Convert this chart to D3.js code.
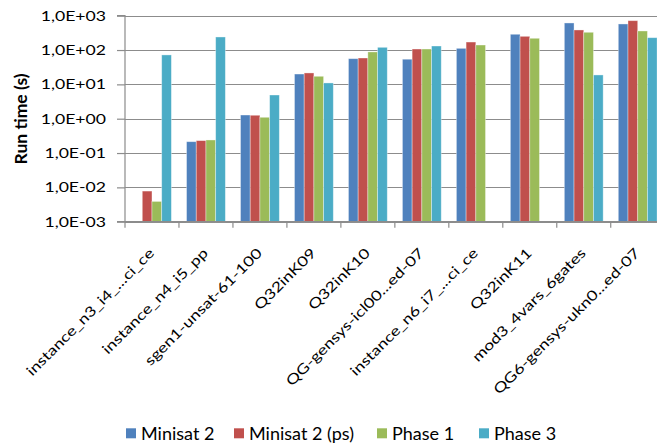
<!DOCTYPE html>
<html><head><meta charset="utf-8">
<script src="https://cdn.jsdelivr.net/npm/d3@7"></script>
<style>
html,body{margin:0;padding:0;background:#fff;}
svg{display:block;font-family:Lato, "Open Sans", sans-serif;}
</style></head>
<body>
<svg id="c" width="657" height="446"></svg>
<script>
const categories = ["instance_n3_i4_...ci_ce","instance_n4_i5_pp","sgen1-unsat-61-100","Q32inK09","Q32inK10","QG-gensys-icl00...ed-07","instance_n6_i7_...ci_ce","Q32inK11","mod3_4vars_6gates","QG6-gensys-ukn0...ed-07"];
const seriesNames = ["Minisat 2","Minisat 2 (ps)","Phase 1","Phase 3"];
const minisat2   = [null, 0.214, 1.28, 20,   56,  54,  112, 288, 614, 574];
const minisat2ps = [0.0078, 0.23, 1.26, 21.5, 58.6, 107, 171, 251, 384, 716];
const phase1     = [0.0039, 0.24, 1.10, 17.2, 88, 107, 140, 220, 329, 359];
const phase3     = [72, 240, 4.9, 11, 120, 131, null, null, 18.8, 229];
const yTicks = [1e-3,1e-2,1e-1,1e0,1e1,1e2,1e3];
const yTickLabels = ["1,0E-03","1,0E-02","1,0E-01","1,0E+00","1,0E+01","1,0E+02","1,0E+03"];
const colors = ["#4F81BD","#C0504D","#9BBB59","#4BACC6"];

const series = [minisat2, minisat2ps, phase1, phase3];
const svg = d3.select("#c");
const L = 125, R = 664.7, T = 15.7, B = 221.7;
const SX = 1.26; // horizontal stretch of tick label text

const x = d3.scaleBand().domain(categories).range([L, R]).paddingInner(0).paddingOuter(0);
const xs = d3.scaleBand().domain(seriesNames).range([0, x.bandwidth()]).paddingInner(0).paddingOuter(0.78);
const y = d3.scaleLog().domain([1e-3, 1e3]).range([B, T]);

// gridlines
svg.append("g").selectAll("line").data(yTicks).join("line")
  .attr("x1", L).attr("x2", R).attr("y1", d => Math.round(y(d)) + 0.5).attr("y2", d => Math.round(y(d)) + 0.5)
  .attr("stroke", "#8c8c8c").attr("stroke-width", 1.2);

// bars
const g = svg.append("g");
series.forEach((vals, si) => {
  g.append("g").selectAll("rect").data(vals.map((v, i) => ({v, c: categories[i]})).filter(d => d.v != null))
    .join("rect")
    .attr("x", d => x(d.c) + xs(seriesNames[si]))
    .attr("width", xs.bandwidth())
    .attr("y", d => y(d.v))
    .attr("height", d => B - y(d.v))
    .attr("fill", colors[si])
    .attr("stroke", "rgba(255,255,255,0.45)").attr("stroke-width", 0.8);
});

// y axis
const yAxis = d3.axisLeft(y).tickValues(yTicks).tickFormat((d, i) => yTickLabels[i]).tickSize(8).tickPadding(11);
const ya = svg.append("g").attr("transform", `translate(${L},0)`).call(yAxis);
ya.select(".domain").attr("stroke", "#8c8c8c").attr("stroke-width", 1.2).attr("d", `M-8,${T}H0V${B}H-8`);
ya.selectAll(".tick line").attr("stroke", "#8c8c8c").attr("stroke-width", 1.2);
ya.selectAll(".tick text").attr("font-size", 14).attr("fill", "#000").attr("font-family", "Lato")
  .attr("x", -19 / SX).attr("transform", `scale(${SX},1)`);

// x axis
const xAxis = d3.axisBottom(x).tickSize(0).tickFormat("");
const xa = svg.append("g").attr("transform", `translate(0,${B})`).call(xAxis);
xa.select(".domain").attr("stroke", "#8c8c8c").attr("stroke-width", 1.2).attr("d", `M${L},0H${R}`);
xa.selectAll(".tick").remove();
xa.selectAll("line.sep").data(d3.range(categories.length + 1)).join("line")
  .attr("class", "sep")
  .attr("x1", i => L + i * x.step()).attr("x2", i => L + i * x.step())
  .attr("y1", 0).attr("y2", 6).attr("stroke", "#8c8c8c").attr("stroke-width", 1.2);

// x labels
svg.append("g").selectAll("text").data(categories).join("text")
  .attr("transform", d => `translate(${x(d) + x.bandwidth() / 2 + 3},254) rotate(-45) scale(${SX},1)`)
  .attr("text-anchor", "end").attr("font-size", 14).attr("fill", "#000")
  .text(d => d);

// y title
svg.append("text").attr("transform", `translate(27,119) rotate(-90)`)
  .attr("text-anchor", "middle").attr("font-size", 17.5).attr("font-weight", "bold")
  .text("Run time (s)");

// legend
const legX = [126, 234, 377, 479];
const leg = svg.append("g");
seriesNames.forEach((n, i) => {
  leg.append("rect").attr("x", legX[i]).attr("y", 428.3).attr("width", 10).attr("height", 10).attr("fill", colors[i]);
  leg.append("text").attr("x", legX[i] + 15).attr("y", 439.5).attr("font-size", 18).attr("fill", "#000").text(n);
});
</script>
</body></html>
